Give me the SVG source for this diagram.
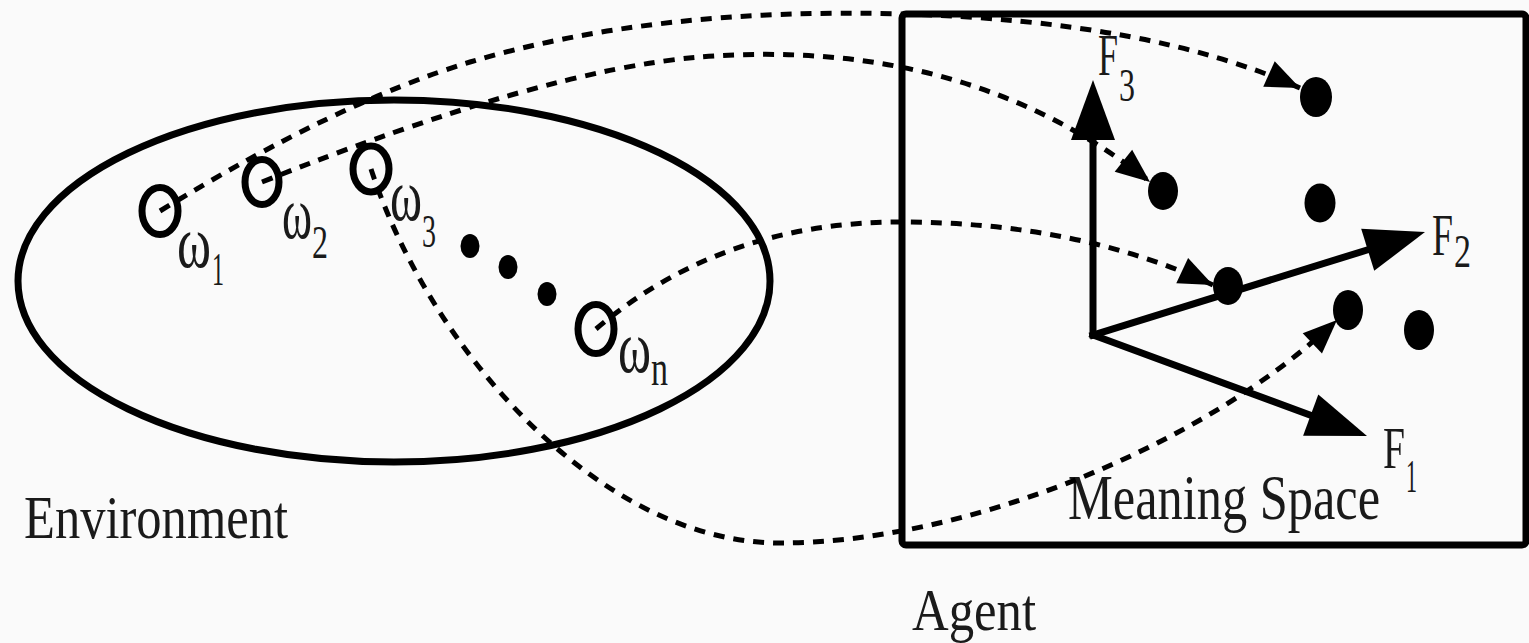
<svg xmlns="http://www.w3.org/2000/svg" width="1529" height="643" viewBox="0 0 1529 643">
  <style>
    .bold { fill: none; stroke: #000; stroke-width: 7; }
    .ring { fill: none; stroke: #000; stroke-width: 7; }
    .dot { fill: #000; stroke: none; }
    .dash { fill: none; stroke: #000; stroke-width: 5; stroke-dasharray: 11 9; }
    .axis { fill: none; stroke: #000; stroke-width: 7; stroke-linecap: square; }
    .lbl { font-family: "Liberation Serif", "Times New Roman", serif; fill: #1a1a1a; }
    .sub { font-size: 46px; }
  </style>
  <defs>
    <marker id="bigArrow" markerUnits="userSpaceOnUse" markerWidth="62" markerHeight="46" refX="0" refY="22" orient="auto" overflow="visible">
      <path d="M0,0 L60,22 L0,44 z" fill="#000"/>
    </marker>
    <marker id="smallArrow" markerUnits="userSpaceOnUse" markerWidth="36" markerHeight="30" refX="34" refY="14" orient="auto" overflow="visible">
      <path d="M0,0 L34,14 L0,28 z" fill="#000"/>
    </marker>
  </defs>
  <rect x="0" y="0" width="1529" height="643" fill="#fafafa"/>

  <g id="environment">
    <ellipse cx="394" cy="281" rx="376" ry="181" class="bold"/>
    <text class="lbl" x="24" y="538" font-size="62" textLength="264" lengthAdjust="spacingAndGlyphs">Environment</text>
  </g>

  <g id="omega1">
    <ellipse cx="160" cy="211" rx="18" ry="23.5" class="ring"/>
    <text class="lbl" font-size="74"><tspan x="177" y="267" textLength="34" lengthAdjust="spacingAndGlyphs">ω</tspan><tspan class="sub" x="212" y="285" textLength="12" lengthAdjust="spacingAndGlyphs">1</tspan></text>
  </g>
  <g id="omega2">
    <ellipse cx="262" cy="182" rx="17" ry="22.5" class="ring"/>
    <text class="lbl" font-size="74"><tspan x="282" y="238" textLength="30" lengthAdjust="spacingAndGlyphs">ω</tspan><tspan class="sub" x="312" y="258" textLength="16" lengthAdjust="spacingAndGlyphs">2</tspan></text>
  </g>
  <g id="omega3">
    <ellipse cx="371" cy="169" rx="18" ry="23" class="ring"/>
    <text class="lbl" font-size="74"><tspan x="390" y="220" textLength="32" lengthAdjust="spacingAndGlyphs">ω</tspan><tspan class="sub" x="422" y="247" textLength="14" lengthAdjust="spacingAndGlyphs">3</tspan></text>
  </g>
  <g id="ellipsis-dots">
    <ellipse cx="470" cy="246" rx="9.5" ry="12" class="dot"/>
    <ellipse cx="508" cy="267" rx="9.5" ry="12" class="dot"/>
    <ellipse cx="547" cy="294" rx="9.5" ry="12" class="dot"/>
  </g>
  <g id="omegaN">
    <ellipse cx="596" cy="329" rx="18" ry="24.5" class="ring"/>
    <text class="lbl" font-size="74"><tspan x="618" y="372" textLength="33" lengthAdjust="spacingAndGlyphs">ω</tspan><tspan x="651" y="385" font-size="50" textLength="17" lengthAdjust="spacingAndGlyphs">n</tspan></text>
  </g>

  <g id="agent">
    <rect x="902" y="14" width="624" height="531" rx="4" class="bold" stroke-width="6"/>
    <text class="lbl" x="912" y="630" font-size="60" textLength="124" lengthAdjust="spacingAndGlyphs">Agent</text>
    <text class="lbl" x="1068" y="519" font-size="64" textLength="312" lengthAdjust="spacingAndGlyphs">Meaning Space</text>
  </g>

  <g id="axes">
    <path class="axis" d="M1093,335 L1093,140" marker-end="url(#bigArrow)"/>
    <path class="axis" d="M1093,335 L1367.7,249.8" marker-end="url(#bigArrow)"/>
    <path class="axis" d="M1093,335 L1310.7,415.2" marker-end="url(#bigArrow)"/>
    <text class="lbl" font-size="60"><tspan x="1098" y="75" textLength="20" lengthAdjust="spacingAndGlyphs">F</tspan><tspan class="sub" x="1119" y="101" textLength="16" lengthAdjust="spacingAndGlyphs">3</tspan></text>
    <text class="lbl" font-size="60"><tspan x="1432" y="255" textLength="21" lengthAdjust="spacingAndGlyphs">F</tspan><tspan class="sub" x="1454" y="267" textLength="17" lengthAdjust="spacingAndGlyphs">2</tspan></text>
    <text class="lbl" font-size="60"><tspan x="1383" y="468" textLength="22" lengthAdjust="spacingAndGlyphs">F</tspan><tspan class="sub" x="1406" y="492" textLength="11" lengthAdjust="spacingAndGlyphs">1</tspan></text>
  </g>

  <g id="meanings">
    <ellipse cx="1316" cy="97" rx="16" ry="20" class="dot"/>
    <ellipse cx="1163" cy="191" rx="15" ry="19" class="dot"/>
    <ellipse cx="1320" cy="203" rx="15.5" ry="19.5" class="dot"/>
    <ellipse cx="1228" cy="286" rx="15" ry="19" class="dot"/>
    <ellipse cx="1348" cy="310" rx="15" ry="20" class="dot"/>
    <ellipse cx="1419" cy="330" rx="15" ry="20" class="dot"/>
  </g>

  <g id="connectors">
    <path class="dash" d="M160,211 Q338,102 470,62 Q655,7 903,14 T1300,88" marker-end="url(#smallArrow)"/>
    <path class="dash" d="M262,182 Q543,70 700,57 Q967,36 1150,182" marker-end="url(#smallArrow)"/>
    <path class="dash" d="M371,169 C430,350 600,543 780,543 S1200,450 1337,320" marker-end="url(#smallArrow)"/>
    <path class="dash" d="M596,329 Q722,222 900,222 T1213,285" marker-end="url(#smallArrow)"/>
  </g>
</svg>
